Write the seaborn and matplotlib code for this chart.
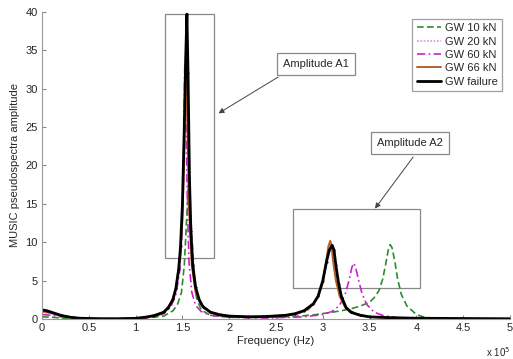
# MUSIC pseudospektrum for GW-prøver
import numpy as np
import pandas as pd
import matplotlib
matplotlib.use("Agg")
import matplotlib.pyplot as plt
import seaborn as sns
from matplotlib.patches import Rectangle

# frekvens i enheter av 1e5 Hz
freq_10 = [0, 0.1, 0.2, 0.4, 0.8, 1.1, 1.3, 1.4, 1.45, 1.49, 1.52, 1.545, 1.565, 1.585, 1.61, 1.63, 1.65, 1.7, 1.8, 2.0, 2.4, 2.7, 2.9, 3.1, 3.2, 3.3, 3.4, 3.5, 3.55, 3.6, 3.64, 3.67, 3.7, 3.72, 3.74, 3.77, 3.8, 3.84, 3.9, 4.0, 4.1, 4.3, 4.6, 5.0]
amp_10 = [0.3, 0.25, 0.15, 0.05, 0.03, 0.15, 0.4, 1.1, 2.0, 3.5, 7.0, 13.0, 17.5, 14.0, 9.0, 5.0, 2.8, 1.2, 0.5, 0.25, 0.2, 0.35, 0.55, 0.9, 1.1, 1.35, 1.7, 2.2, 2.8, 3.7, 5.2, 7.0, 9.0, 9.7, 9.3, 7.5, 5.2, 3.2, 1.7, 0.6, 0.2, 0.08, 0.04, 0.02]

freq_20 = [0, 0.1, 0.2, 0.4, 0.8, 1.1, 1.3, 1.38, 1.43, 1.47, 1.5, 1.52, 1.535, 1.545, 1.56, 1.58, 1.61, 1.65, 1.7, 1.8, 2.0, 2.4, 2.7, 2.85, 2.95, 3.0, 3.04, 3.07, 3.09, 3.11, 3.14, 3.18, 3.24, 3.35, 3.5, 3.8, 4.2, 5.0]
amp_20 = [0.9, 0.7, 0.4, 0.12, 0.05, 0.2, 0.8, 2.0, 3.8, 7.0, 12.5, 21.0, 31.0, 36.5, 30.0, 17.0, 8.0, 3.8, 2.0, 0.9, 0.4, 0.25, 0.6, 1.3, 2.8, 4.6, 7.5, 9.8, 9.6, 8.0, 5.5, 3.2, 1.6, 0.7, 0.3, 0.12, 0.06, 0.03]

freq_60 = [0, 0.1, 0.2, 0.4, 0.8, 1.1, 1.3, 1.38, 1.43, 1.47, 1.49, 1.51, 1.525, 1.54, 1.555, 1.57, 1.6, 1.64, 1.7, 1.8, 2.0, 2.4, 2.8, 3.0, 3.1, 3.18, 3.24, 3.28, 3.31, 3.33, 3.35, 3.38, 3.42, 3.47, 3.55, 3.65, 3.8, 4.1, 5.0]
amp_60 = [0.6, 0.5, 0.3, 0.1, 0.04, 0.15, 0.7, 1.7, 3.2, 6.2, 10.0, 19.0, 33.0, 24.0, 14.0, 7.5, 3.5, 1.8, 1.0, 0.5, 0.25, 0.15, 0.3, 0.6, 1.0, 1.8, 3.3, 5.0, 6.7, 7.3, 6.8, 5.2, 3.3, 1.9, 0.9, 0.45, 0.2, 0.08, 0.03]

freq_66 = [0, 0.1, 0.2, 0.4, 0.8, 1.1, 1.3, 1.38, 1.43, 1.47, 1.5, 1.52, 1.535, 1.55, 1.57, 1.6, 1.64, 1.7, 1.8, 2.0, 2.4, 2.7, 2.85, 2.95, 3.0, 3.03, 3.06, 3.08, 3.095, 3.11, 3.14, 3.18, 3.24, 3.35, 3.5, 3.8, 4.2, 5.0]
amp_66 = [1.0, 0.8, 0.45, 0.13, 0.05, 0.2, 0.9, 2.1, 4.0, 7.5, 13.0, 22.0, 34.0, 27.0, 14.5, 7.0, 3.5, 1.9, 0.9, 0.4, 0.25, 0.6, 1.3, 2.9, 4.8, 7.0, 9.5, 10.2, 9.5, 7.5, 5.0, 3.0, 1.5, 0.7, 0.3, 0.12, 0.06, 0.03]

freq_fail = [0, 0.05, 0.1, 0.2, 0.3, 0.4, 0.6, 0.8, 1.0, 1.1, 1.2, 1.3, 1.35, 1.4, 1.43, 1.46, 1.48, 1.5, 1.52, 1.535, 1.548, 1.56, 1.575, 1.59, 1.61, 1.64, 1.68, 1.72, 1.8, 1.9, 2.0, 2.2, 2.4, 2.6, 2.7, 2.8, 2.9, 2.95, 3.0, 3.04, 3.07, 3.1, 3.12, 3.14, 3.17, 3.2, 3.25, 3.3, 3.4, 3.5, 3.7, 4.0, 4.5, 5.0]
amp_fail = [1.2, 1.1, 0.9, 0.5, 0.25, 0.12, 0.05, 0.05, 0.1, 0.25, 0.45, 0.9, 1.5, 2.6, 4.0, 6.5, 9.5, 15.0, 25.0, 34.0, 39.7, 32.0, 18.5, 11.5, 7.0, 4.2, 2.5, 1.6, 0.9, 0.55, 0.4, 0.3, 0.35, 0.5, 0.7, 1.1, 2.0, 3.0, 5.0, 7.5, 9.0, 9.6, 9.0, 7.0, 4.6, 2.9, 1.5, 0.9, 0.5, 0.3, 0.2, 0.12, 0.08, 0.05]

serier = [
    ("GW 10 kN", freq_10, amp_10, "#2e8b2e", (0, (4, 2)), None, 1.2),
    ("GW 20 kN", freq_20, amp_20, "#d98fd9", (0, (1, 1)), None, 1.2),
    ("GW 60 kN", freq_60, amp_60, "#cc22cc", (0, (5, 2, 1, 2)), None, 1.2),
    ("GW 66 kN", freq_66, amp_66, "#b5622a", "-", None, 1.4),
    ("GW failure", freq_fail, amp_fail, "black", "-", ".", 2.0),
]

sns.set_style("ticks")
plt.rcParams["font.family"] = ["Liberation Sans", "DejaVu Sans"]

fig = plt.figure(figsize=(5.13, 3.59), dpi=100)
ax = fig.add_axes([0.082, 0.111, 0.912, 0.856])

for navn, f, a, farge, stil, markør, lw in serier:
    df = pd.DataFrame({"f": f, "a": a})
    sns.lineplot(data=df, x="f", y="a", ax=ax, color=farge, linestyle=stil,
                 marker=markør, markersize=3, markeredgewidth=0,
                 markerfacecolor=farge, linewidth=lw, label=navn)

ax.set_xlim(0, 5)
ax.set_ylim(0, 40)
ax.set_xticks(np.arange(0, 5.01, 0.5))
ax.set_xticklabels(["0", "0.5", "1", "1.5", "2", "2.5", "3", "3.5", "4", "4.5", "5"])
ax.set_yticks(np.arange(0, 41, 5))
ax.tick_params(direction="in", length=3, labelsize=8, color="#888888", pad=3)
for side in ["top", "right"]:
    ax.spines[side].set_visible(False)
for side in ["left", "bottom"]:
    ax.spines[side].set_color("#999999")
ax.set_xlabel("Frequency (Hz)", fontsize=8, labelpad=2)
ax.set_ylabel("MUSIC pseudospectra amplitude", fontsize=8, labelpad=4)
ax.text(1.0, -0.085, "x 10$^5$", transform=ax.transAxes, ha="right", va="top", fontsize=7)

# rammer rundt toppene
ax.add_patch(Rectangle((1.314, 7.9), 0.524, 31.8, fill=False, edgecolor="#888888", lw=0.9))
ax.add_patch(Rectangle((2.68, 4.0), 1.36, 10.3, fill=False, edgecolor="#888888", lw=0.9))

boks = dict(boxstyle="square,pad=0.55", fc="white", ec="#888888", lw=0.9)
ax.annotate("Amplitude A1", xy=(1.86, 26.6), xytext=(2.93, 33.2), fontsize=8,
            ha="center", va="center", bbox=boks,
            arrowprops=dict(arrowstyle="-|>", color="#444444", lw=0.7,
                            mutation_scale=8, relpos=(0.12, 0.0)))
ax.annotate("Amplitude A2", xy=(3.54, 14.1), xytext=(3.93, 22.9), fontsize=8,
            ha="center", va="center", bbox=boks,
            arrowprops=dict(arrowstyle="-|>", color="#444444", lw=0.7,
                            mutation_scale=8, relpos=(0.65, 0.0)))

leg = ax.legend(loc="upper right", fontsize=8, frameon=True, fancybox=False,
                edgecolor="#888888", handlelength=2.2, borderpad=0.4,
                labelspacing=0.3, handletextpad=0.3, bbox_to_anchor=(0.995, 0.995))
leg.get_frame().set_linewidth(0.9)

fig.savefig("out.png", dpi=100)
